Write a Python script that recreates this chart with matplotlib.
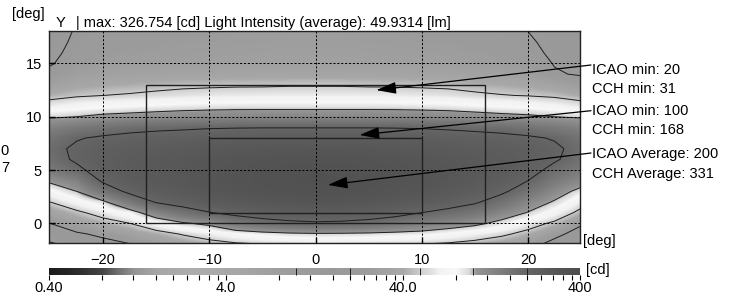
import numpy as np
import matplotlib
matplotlib.use('Agg')
import matplotlib.pyplot as plt
from matplotlib.colors import LogNorm, LinearSegmentedColormap
from matplotlib.patches import Rectangle
from matplotlib.ticker import NullFormatter, FixedLocator

plt.rcParams['font.family'] = ['Liberation Sans', 'DejaVu Sans']

# ---------------- data ----------------
x_deg = [-25, -22.5, -20, -17.5, -15, -12.5, -10, -7.5, -5, -2.5, 0,
         2.5, 5, 7.5, 10, 12.5, 15, 17.5, 20, 22.5, 25]
y_deg = [18, 17, 16, 15, 14, 13, 12, 11, 10, 9, 8, 7, 6, 5, 4, 3, 2, 1, 0, -1, -2]

# intensity [cd] per column (x), listed from y=18 down to y=-2
col_m25  = [15, 16, 17.5, 19, 23, 30, 42, 62, 95, 135, 165, 180, 172, 150, 108, 72, 50, 32, 20, 13, 9]
col_m225 = [21, 22, 23, 25, 29, 36, 47, 70, 100, 150, 195, 212, 210, 185, 135, 100, 68, 45, 30, 18, 12]
col_m20  = [23, 24, 25, 27, 31, 39, 50, 75, 108, 165, 210, 232, 238, 230, 210, 160, 92, 60, 40, 23, 15]
col_m175 = [24, 25, 26, 28, 32, 41, 52, 78, 112, 178, 220, 242, 252, 254, 245, 215, 150, 80, 50, 30, 19]
col_m15  = [24, 25, 26.5, 28.5, 33, 43, 55, 82, 116, 185, 228, 250, 262, 266, 262, 245, 205, 130, 70, 40, 25]
col_m125 = [25, 26, 27, 29, 34, 45, 58, 85, 120, 190, 232, 258, 272, 278, 275, 262, 230, 165, 95, 52, 32]
col_m10  = [25, 26, 27.5, 29.5, 34, 46, 60, 87, 122, 195, 238, 265, 282, 290, 290, 278, 250, 197, 110, 62, 40]
col_m75  = [26, 27, 28, 30, 34.5, 47, 61, 88, 124, 197, 241, 272, 292, 302, 303, 292, 265, 220, 150, 75, 45]
col_m5   = [26, 27, 28.5, 30.5, 35, 47, 62, 88, 125, 198, 243, 276, 300, 312, 315, 305, 278, 238, 170, 85, 48]
col_m25b = [27, 28, 29, 31, 35, 48, 62, 88, 125, 198, 245, 278, 303, 318, 322, 312, 286, 246, 185, 92, 50]
col_0    = [27, 28, 29, 31, 35, 48, 62, 88, 125, 198, 245, 280, 305, 320, 326.754, 315, 290, 250, 192, 95, 52]
col_p25b = [27, 28, 29, 31, 35, 48, 62, 88, 125, 198, 245, 279, 304, 319, 323, 313, 288, 248, 188, 94, 51]
col_p5   = [26, 27, 28.5, 30.5, 35, 47, 62, 88, 125, 198, 243, 277, 301, 314, 317, 307, 280, 240, 178, 92, 50]
col_p75  = [26, 27, 28, 30, 34.5, 47, 61, 88, 124, 197, 241, 272, 293, 304, 305, 294, 268, 225, 160, 88, 50]
col_p10  = [25, 26, 27.5, 29.5, 34, 46, 60, 87, 122, 195, 238, 265, 283, 292, 292, 280, 252, 200, 140, 85, 48]
col_p125 = [24, 25.5, 27, 29, 33.5, 45, 58, 85, 120, 190, 233, 258, 273, 280, 276, 262, 232, 180, 125, 75, 45]
col_p15  = [23, 24.5, 26, 28, 32.5, 42, 54, 81, 115, 183, 227, 250, 262, 266, 260, 240, 208, 160, 110, 65, 40]
col_p175 = [22, 23.5, 25, 27, 31, 40, 51, 77, 110, 176, 220, 242, 252, 254, 240, 212, 170, 125, 88, 55, 33]
col_p20  = [20, 21.5, 23, 25, 29, 37, 49, 74, 106, 165, 210, 232, 236, 226, 200, 165, 125, 98, 62, 42, 25]
col_p225 = [16, 17, 18, 19.5, 21, 33, 46, 68, 100, 150, 195, 212, 208, 180, 150, 120, 96, 70, 45, 24, 15]
col_p25  = [13, 14, 15.5, 17, 19, 26, 40, 60, 95, 135, 165, 178, 170, 145, 120, 88, 62, 42, 22, 14, 10]

contour_levels = [10, 20, 50, 100, 200]

# measurement zones (ICAO rectangles): x0, y0, width, height
zone_outer = (-16, 0, 32, 13)
zone_inner = (-10, 1, 20, 7)

# annotation targets and texts
arrow_tip_x = [5.72, 4.14, 1.16]
arrow_tip_y = [12.5, 8.29, 3.6]
label_first = ['ICAO min: 20', 'ICAO min: 100', 'ICAO Average: 200']
label_second = ['CCH min: 31', 'CCH min: 168', 'CCH Average: 331']

title_text = '| max: 326.754 [cd] Light Intensity (average): 49.9314 [lm]'

cbar_ticks = [0.4, 4, 40, 400]
cbar_ticklabels = ['0.40', '4.0', '40.0', '400']
x_ticks = [-20, -10, 0, 10, 20]
y_ticks = [0, 5, 10, 15]

# grayscale colour scale (value in cd -> gray level)
cmap_values = [0.4, 0.6, 0.8, 1.0, 1.2, 1.6, 2.5, 4, 8, 15, 25, 40, 50, 65, 80, 95, 105, 150, 200, 300, 400]
cmap_grays  = [0.10, 0.18, 0.27, 0.45, 0.58, 0.65, 0.68, 0.66, 0.62, 0.60, 0.61, 0.66,
               0.80, 0.95, 0.97, 0.85, 0.58, 0.48, 0.40, 0.33, 0.30]

# ---------------- figure ----------------
W, H = 742, 299
def fx(px):
    return px / W
def fy(py):
    return 1 - py / H

columns = [col_m25, col_m225, col_m20, col_m175, col_m15, col_m125, col_m10, col_m75,
           col_m5, col_m25b, col_0, col_p25b, col_p5, col_p75, col_p10, col_p125,
           col_p15, col_p175, col_p20, col_p225, col_p25]
Z = np.array(columns, dtype=float).T  # rows = y (18 .. -2)
Z = Z[::-1]                            # rows ascending in y
ys = np.array(y_deg[::-1], dtype=float)
xs = np.array(x_deg, dtype=float)

lv = np.log10(cmap_values)
pos = (lv - lv[0]) / (lv[-1] - lv[0])
cmap = LinearSegmentedColormap.from_list(
    'grayint', [(p, (g, g, g)) for p, g in zip(pos, cmap_grays)], N=512)
norm = LogNorm(vmin=0.4, vmax=400)

fig = plt.figure(figsize=(W / 100, H / 100), dpi=100)
ax = fig.add_axes([fx(49), fy(243), (580 - 49) / W, (243 - 31) / H])

im = ax.imshow(Z, extent=[xs[0] - 1.25, xs[-1] + 1.25, ys[0] - 0.5, ys[-1] + 0.5],
               origin='lower', cmap=cmap, norm=norm, interpolation='bilinear',
               aspect='auto', zorder=0)
cs = ax.contour(xs, ys, Z, levels=contour_levels, colors='#1e1e1e', linewidths=0.7, zorder=2)

for (x0, y0, w, h) in (zone_outer, zone_inner):
    ax.add_patch(Rectangle((x0, y0), w, h, fill=False, ec='#202020', lw=1.0, zorder=3))

ax.set_xlim(-25.1, 24.9)
ax.set_ylim(-1.85, 18.05)
ax.set_xticks(x_ticks)
ax.set_yticks(y_ticks)
ax.tick_params(direction='in', length=4, width=1, labelsize=10.5, color='k')
ax.tick_params(axis='x', pad=7)
ax.tick_params(axis='y', pad=5)
ax.set_axisbelow(False)
ax.grid(True, color='k', linestyle=(0, (2.2, 1.8)), linewidth=0.7)
for s in ax.spines.values():
    s.set_linewidth(1.0)
    s.set_color('#222222')

# colorbar
cax = fig.add_axes([fx(49), fy(275), (580 - 49) / W, 7 / H])
cbar = fig.colorbar(im, cax=cax, orientation='horizontal')
cbar.outline.set_visible(False)
cbar.add_lines(cs)
cax.xaxis.set_major_locator(FixedLocator(cbar_ticks))
cax.set_xticklabels(cbar_ticklabels)
minor = []
for base in (0.4, 4, 40):
    minor += [base * k for k in range(2, 10)]
cax.xaxis.set_minor_locator(FixedLocator(minor))
cax.xaxis.set_minor_formatter(NullFormatter())
cax.tick_params(which='both', direction='out', length=3.5, width=0.8, labelsize=10.5, pad=1)

# texts
fs = 10.5
fig.text(fx(12), fy(18), '[deg]', fontsize=fs, ha='left', va='baseline')
fig.text(fx(56), fy(26.7), 'Y', fontsize=fs, ha='left', va='baseline')
fig.text(fx(76), fy(26.7), title_text, fontsize=fs, ha='left', va='baseline')
fig.text(fx(583), fy(245), '[deg]', fontsize=fs, ha='left', va='baseline')
fig.text(fx(586), fy(274), '[cd]', fontsize=fs, ha='left', va='baseline')
fig.text(fx(9), fy(155), '0', fontsize=fs, ha='right', va='baseline')
fig.text(fx(9), fy(172), '7', fontsize=fs, ha='right', va='baseline')

first_base = [74.3, 115, 158.3]
second_base = [93.3, 134, 177.7]
tail_y = [65, 110.7, 153]
for i in range(3):
    fig.text(fx(592), fy(first_base[i]), label_first[i], fontsize=fs, ha='left', va='baseline')
    fig.text(fx(592), fy(second_base[i]), label_second[i], fontsize=fs, ha='left', va='baseline')
    ax.annotate('', xy=(arrow_tip_x[i], arrow_tip_y[i]), xycoords='data',
                xytext=(fx(591), fy(tail_y[i])), textcoords='figure fraction',
                arrowprops=dict(arrowstyle='-|>,head_length=1.1,head_width=0.33',
                                mutation_scale=11, color='k', lw=0.9,
                                shrinkA=0, shrinkB=0),
                annotation_clip=False, zorder=5)

fig.savefig('out.png', dpi=100)
